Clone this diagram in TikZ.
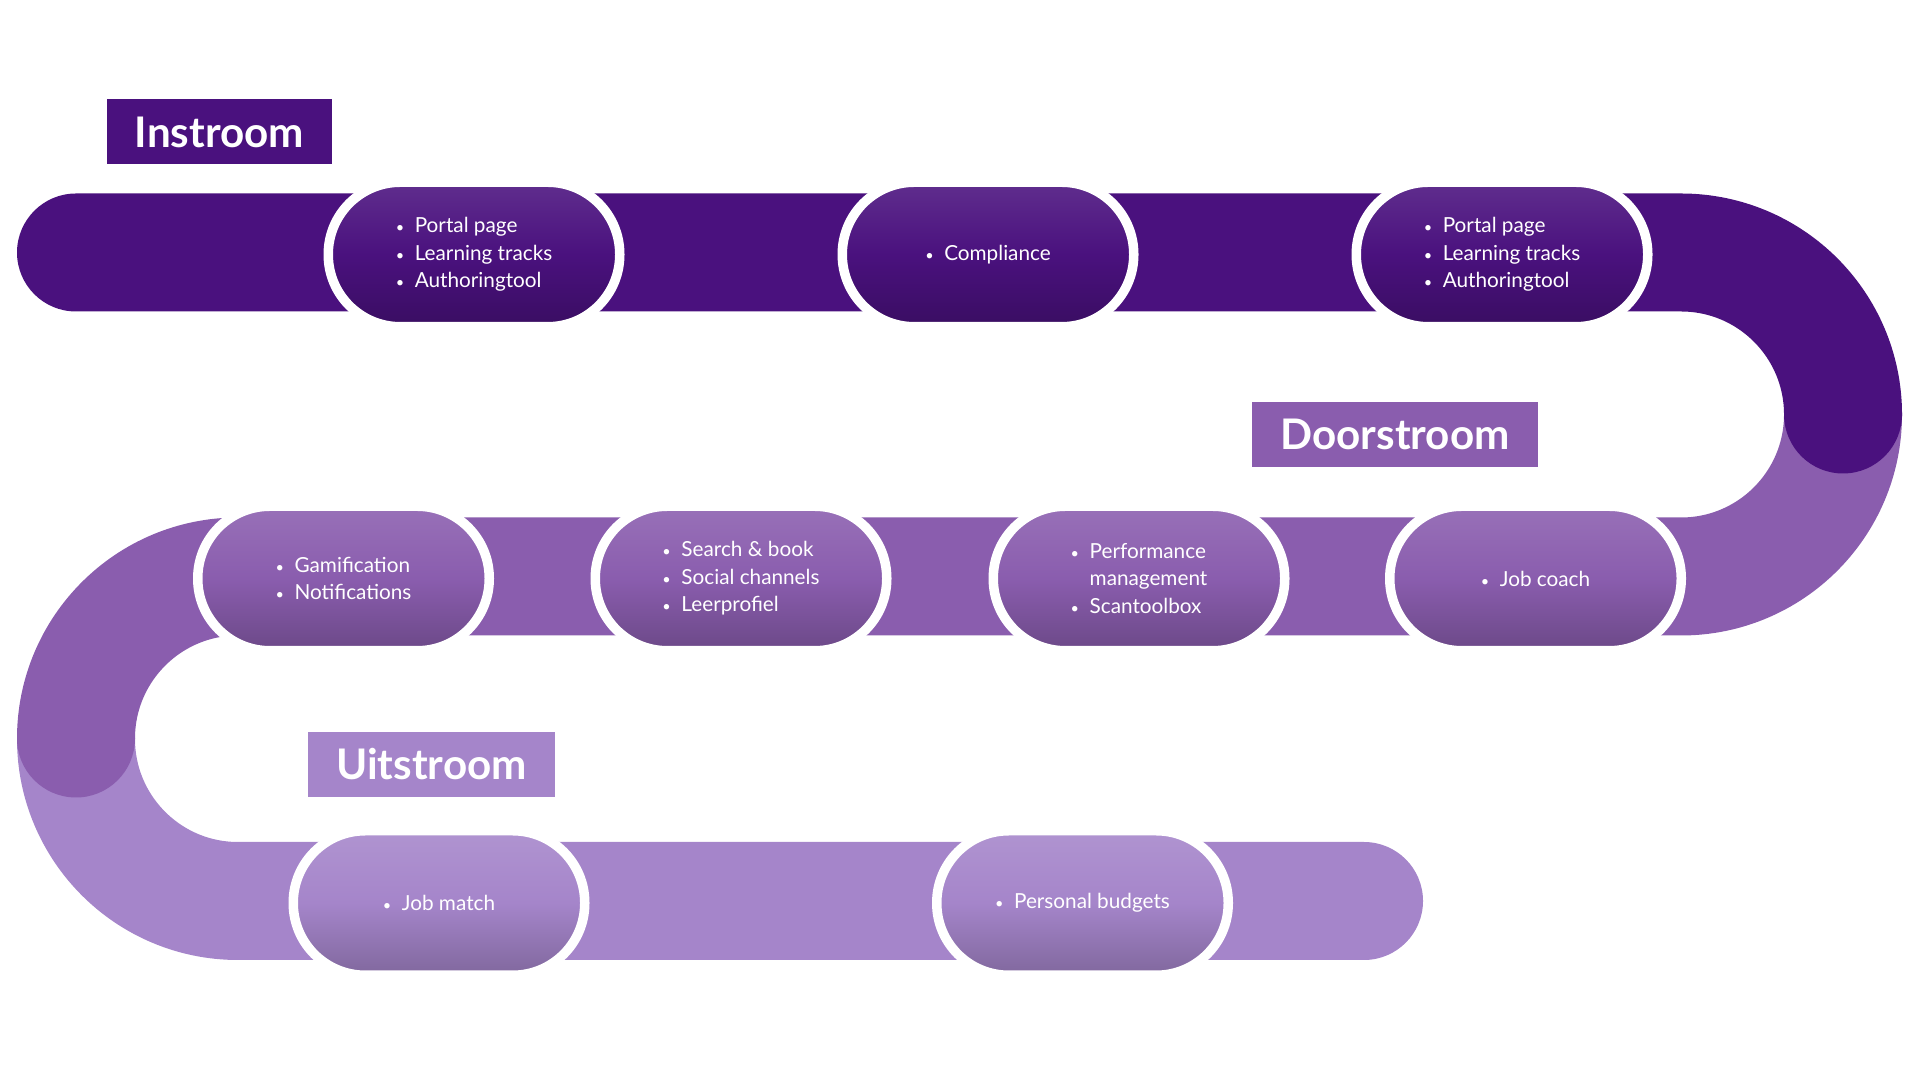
\documentclass[tikz,border=0pt]{standalone}
\usepackage{fontspec}
\setmainfont{Lato}
\usepackage{graphicx}

\definecolor{instroom}{HTML}{4A117E}
\definecolor{doorstroom}{HTML}{8A5DAE}
\definecolor{uitstroom}{HTML}{A585CA}

% bullet items inside the pills
\newcommand{\itm}[1]{\makebox[0.19cm][l]{\scalebox{0.7}{\textbullet}}#1}
\newcommand{\itmgap}{\hspace*{0.19cm}}

\tikzset{
  band/.style={line width=1.18cm,line cap=round},
  pill/.style={rectangle,rounded corners=0.72cm,minimum width=2.915cm,minimum height=1.445cm,
    draw=white,line width=0.095cm,text=white,align=left,font=\fontsize{5.9pt}{7.8pt}\selectfont,
    top color=#1!88!white,bottom color=#1!78!black,middle color=#1},
  phase/.style={fill=#1,text=white,minimum height=0.65cm,inner xsep=0.28cm,
    font=\fontsize{12pt}{14pt}\selectfont\bfseries},
}

\begin{document}
\begin{tikzpicture}
    \useasboundingbox (0cm,0cm) rectangle (19.2cm,10.8cm);

    % draw the bands, lowest first
    \draw[band,uitstroom] (13.64cm,1.79cm) -- (2.38cm,1.79cm)
        arc[start angle=270,end angle=180,radius=1.62cm];
    \draw[band,doorstroom] (18.43cm,6.655cm) arc[start angle=0,end angle=-90,radius=1.62cm]
        -- (2.38cm,5.035cm) arc[start angle=90,end angle=180,radius=1.62cm];
    \draw[band,instroom] (0.76cm,8.275cm) -- (16.81cm,8.275cm)
        arc[start angle=90,end angle=0,radius=1.62cm];

    % draw the pills on the bands
    \foreach \name/\x/\y/\col/\txt in {
        % the pills of the first band
        in1/4.74/8.275/instroom/{\itm{Portal page}\\\itm{Learning tracks}\\\itm{Authoringtool}},
        in2/9.88/8.275/instroom/{\itm{Compliance}},
        in3/15.02/8.275/instroom/{\itm{Portal page}\\\itm{Learning tracks}\\\itm{Authoringtool}},
        % the pills of the second band
        door1/3.435/5.035/doorstroom/{\itm{Gamification}\\\itm{Notifications}},
        door2/7.41/5.035/doorstroom/{\itm{Search \& book}\\\itm{Social channels}\\\itm{Leerprofiel}},
        door3/11.39/5.035/doorstroom/{\itm{Performance}\\\itmgap management\\\itm{Scantoolbox}},
        door4/15.355/5.035/doorstroom/{\itm{Job coach}},
        % the pills of the third band
        uit1/4.39/1.79/uitstroom/{\itm{Job match}},
        uit2/10.825/1.79/uitstroom/{\itm{Personal budgets}}}
            \node[pill=\col] (\name) at (\x cm,\y cm-0.02cm) {\txt};

    % draw the phase labels
    \node[phase=instroom] (lbl-in) at (2.195cm,9.48cm) {Instroom};
    \node[phase=doorstroom] (lbl-door) at (13.95cm,6.455cm) {Doorstroom};
    \node[phase=uitstroom] (lbl-uit) at (4.315cm,3.155cm) {Uitstroom};
\end{tikzpicture}
\end{document}
